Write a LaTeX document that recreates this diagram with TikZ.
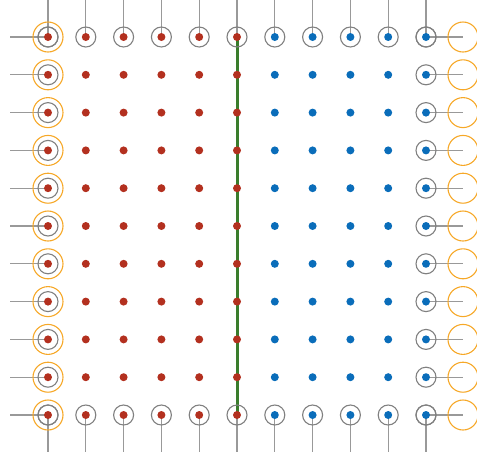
\documentclass[tikz,border=0pt]{standalone}
\usetikzlibrary{backgrounds}
\definecolor{dotred}{HTML}{B3301F}
\definecolor{dotblue}{HTML}{0A6DBA}
\definecolor{cutgreen}{HTML}{3A7D2C}
\definecolor{haloorange}{HTML}{F6A828}
\definecolor{ringgray}{HTML}{808080}
\definecolor{leadgray}{HTML}{999999}
\tikzset{
    dot/.style={circle, fill=#1, inner sep=0pt, minimum size=8pt},
    ring/.style={circle, draw=ringgray, line width=1.1pt,
                 inner sep=0pt, minimum size=20pt},
    halo/.style={circle, draw=haloorange, line width=1.1pt,
                 inner sep=0pt, minimum size=30pt},
    lead/.style={draw=leadgray, line width=1.3pt},
    cut/.style={draw=cutgreen, line width=3pt},
}

\begin{document}
\begin{tikzpicture}[x=1pt, y=-1pt]
    \useasboundingbox (0,0) rectangle (477,459);

    % grid of sites
    \foreach \i in {0,...,5}
        \foreach \j in {0,...,10}
            \node[dot=dotred] (d-\i-\j) at ({48+37.8*\i},{37+37.8*\j}) {};
    \foreach \i in {6,...,10}
        \foreach \j in {0,...,10}
            \node[dot=dotblue] (d-\i-\j) at ({48+37.8*\i},{37+37.8*\j}) {};

    % free ends of the leads
    \foreach \k in {0,...,10} {
        \coordinate (t-\k) at ({48+37.8*\k},0);
        \coordinate (b-\k) at ({48+37.8*\k},452);
        \coordinate (w-\k) at (10,{37+37.8*\k});
        \coordinate (e-\k) at (463,{37+37.8*\k});
    }

    \begin{scope}[on background layer]
        \foreach \k in {0,...,10} {
            \draw[lead] (t-\k) -- (d-\k-0.center);
            \draw[lead] (d-\k-10.center) -- (b-\k);
            \draw[lead] (w-\k) -- (d-0-\k.center);
            \draw[lead] (d-10-\k.center) -- (e-\k);
        }
        \draw[cut] (d-5-0.center) -- (d-5-10.center);
    \end{scope}

    % boundary rings
    \foreach \k in {0,...,10} {
        \node[ring] at (d-\k-0) {};
        \node[ring] at (d-\k-10) {};
        \node[ring] at (d-0-\k) {};
        \node[ring] at (d-10-\k) {};
        \node[halo] at (d-0-\k) {};
        \node[halo] at (e-\k) {};
    }
\end{tikzpicture}
\end{document}
